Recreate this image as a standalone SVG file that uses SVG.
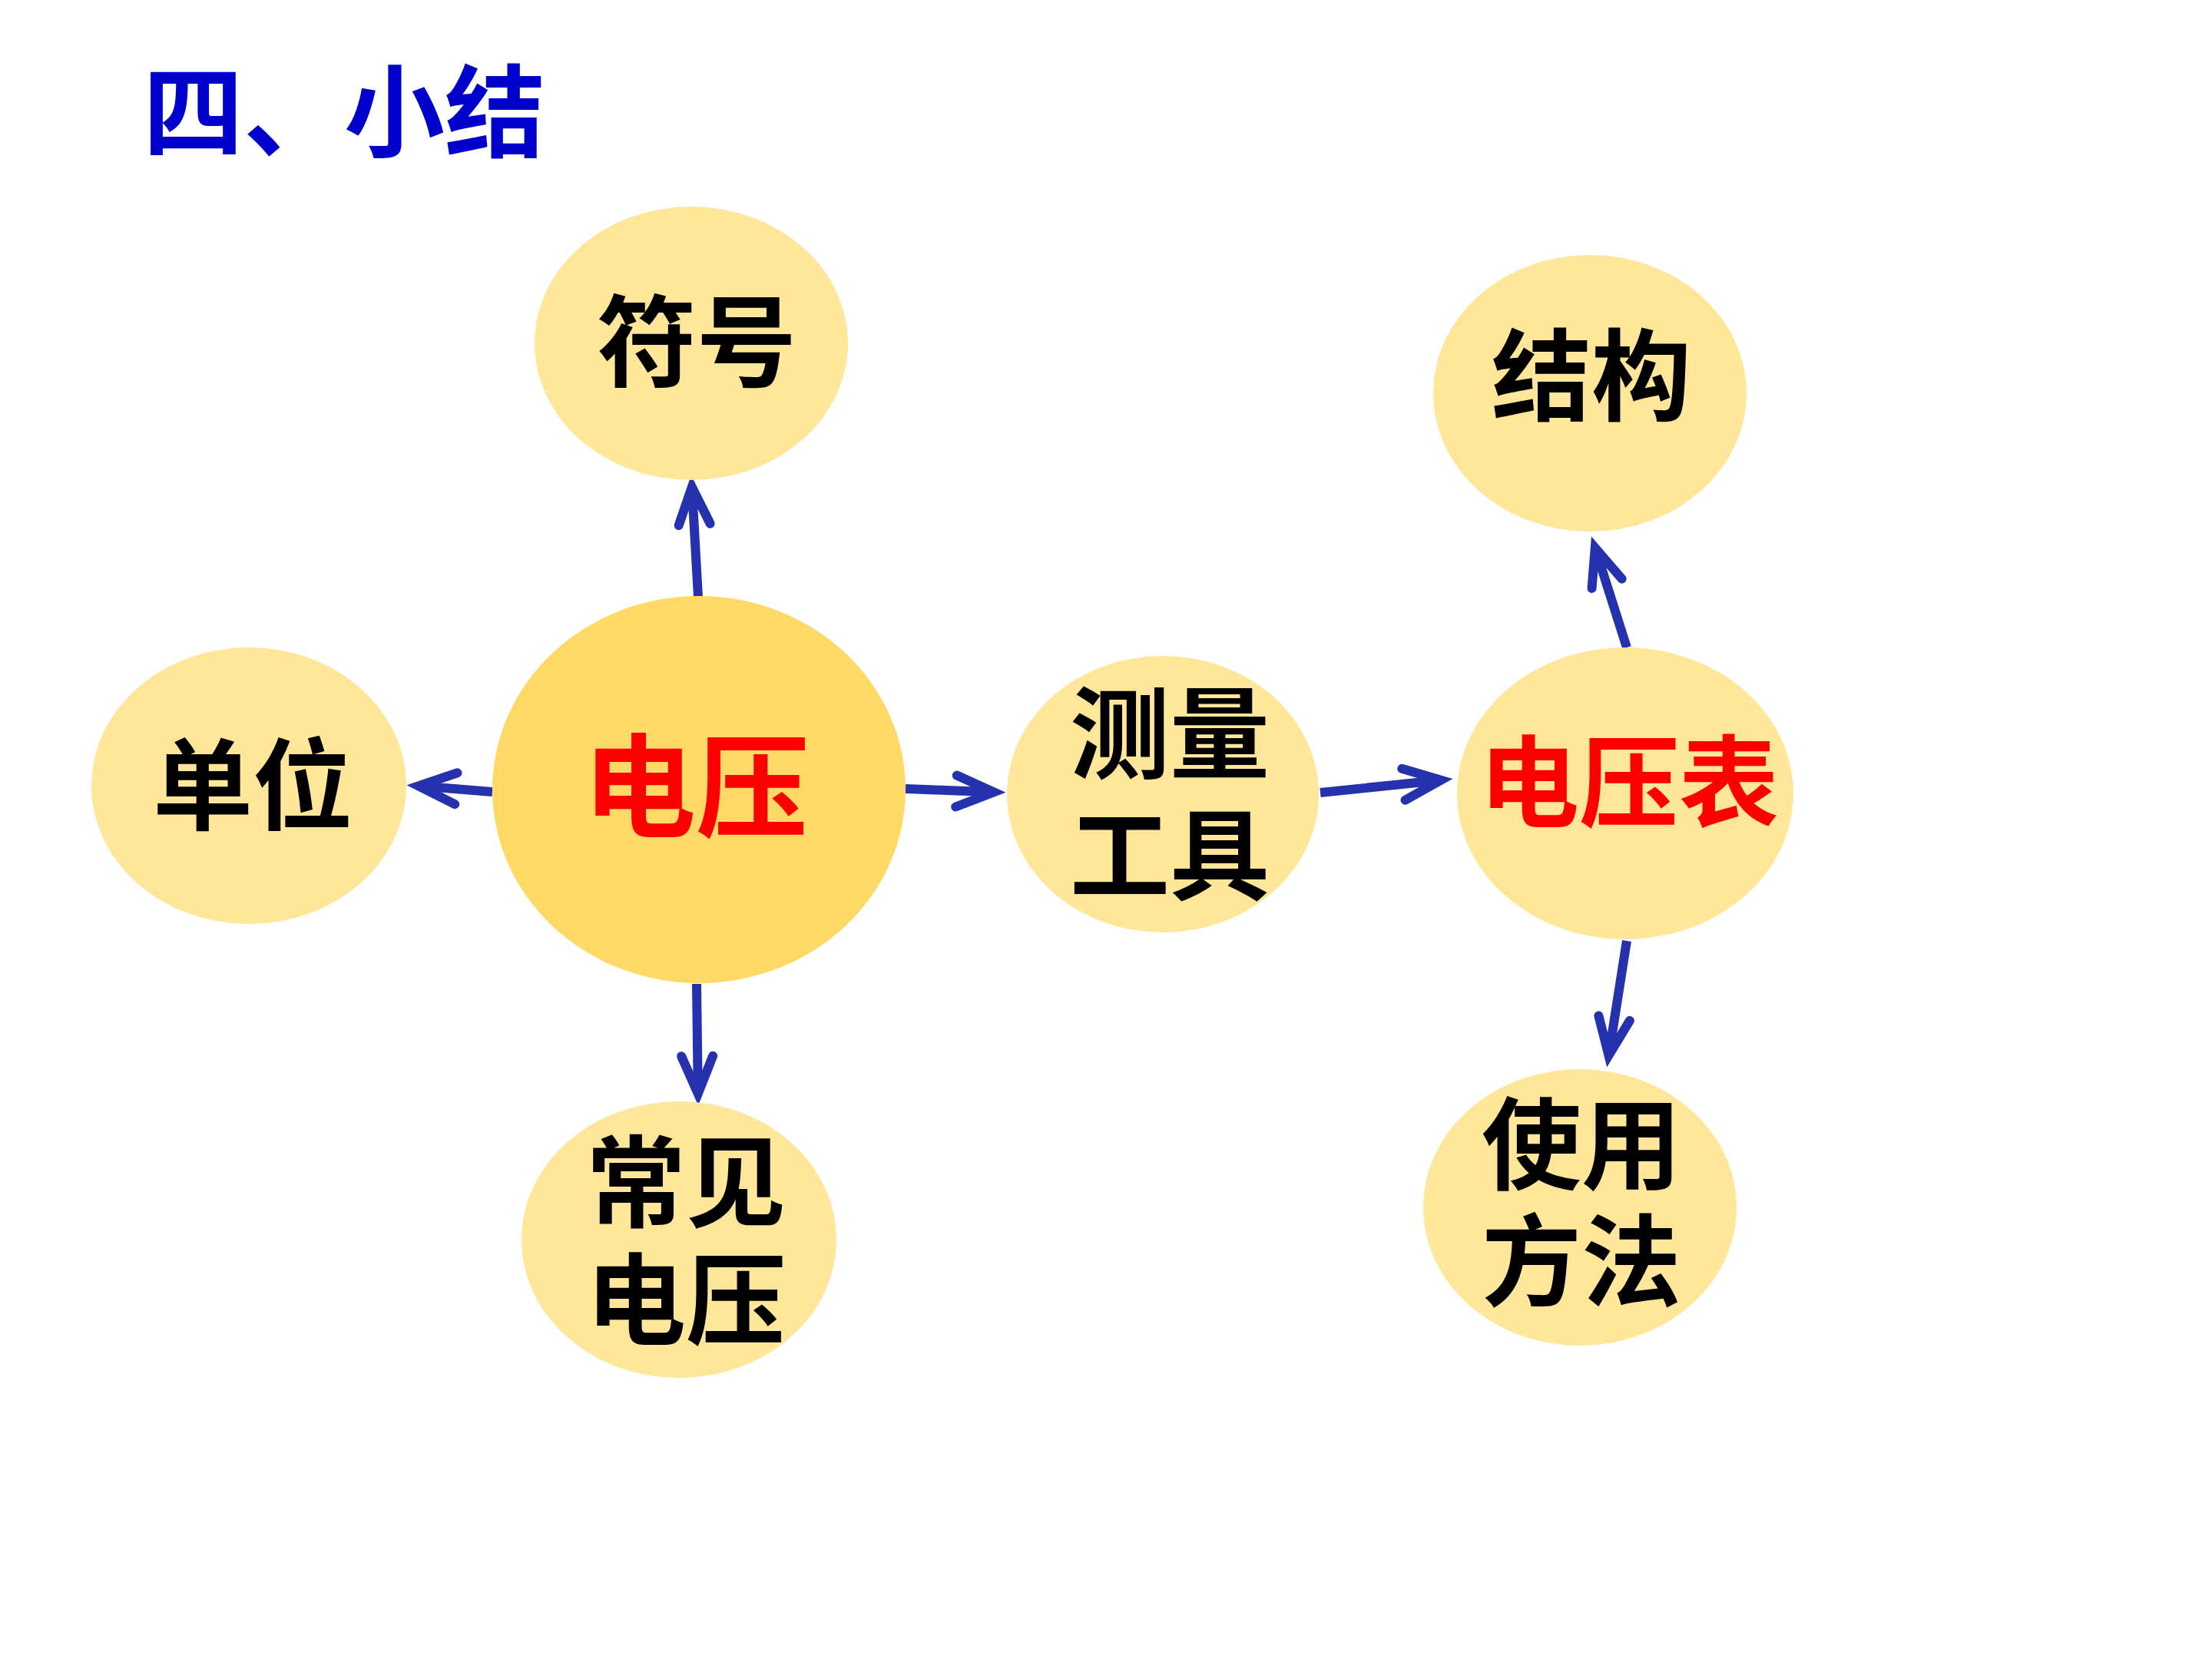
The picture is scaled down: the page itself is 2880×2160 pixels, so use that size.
<svg xmlns="http://www.w3.org/2000/svg" width="2880" height="2160" viewBox="0 0 2880 2160">
<style>
.n{fill:#FFE699}
.c{fill:#FFD966}
.t{font-family:"Noto Sans CJK SC","Noto Sans CJK JP",sans-serif;font-weight:700;font-size:130px;text-anchor:middle;fill:#000}
.r{fill:#FF0000}
.a{stroke:#2632AD;stroke-width:12;fill:none;marker-end:url(#ah)}
</style>
<defs>
<marker id="ah" markerUnits="userSpaceOnUse" orient="auto" markerWidth="120" markerHeight="120" refX="0" refY="0" viewBox="-70 -60 120 120" overflow="visible">
<path d="M-49,-20 L0,0 L-49,21" fill="none" stroke="#2632AD" stroke-width="12" stroke-linecap="round" stroke-linejoin="miter"/>
</marker>
</defs>
<rect width="2880" height="2160" fill="#fff"/>
<g id="title">
<text x="186" y="194" style="font-family:'Noto Sans CJK SC',sans-serif;font-weight:700;font-size:131px;fill:#0000CC">四、小结</text>
</g>
<g id="connectors">
<line class="a" x1="909" y1="777" x2="900.9" y2="634"/>
<line class="a" x1="641" y1="1031" x2="545" y2="1023.3"/>
<line class="a" x1="907" y1="1281" x2="908.8" y2="1424"/>
<line class="a" x1="1179" y1="1027" x2="1294" y2="1031.4"/>
<line class="a" x1="1719" y1="1032" x2="1876.1" y2="1015.7"/>
<line class="a" x1="2118" y1="843" x2="2076.8" y2="713.3"/>
<line class="a" x1="2118" y1="1225" x2="2094.5" y2="1374.2"/>
</g>
<g id="fuhao"><ellipse class="n" cx="900" cy="447" rx="204" ry="178"/><text class="t" x="907" y="493">符号</text></g>
<g id="jiegou"><ellipse class="n" cx="2070" cy="512" rx="204" ry="180"/><text class="t" x="2072" y="537">结构</text></g>
<g id="danwei"><ellipse class="n" cx="324" cy="1023" rx="205" ry="180"/><text class="t" x="329" y="1070">单位</text></g>
<g id="dianya"><ellipse class="c" cx="910" cy="1028" rx="269" ry="252"/><text class="t r" x="906" y="1078" style="font-size:147px">电压</text></g>
<g id="celiang"><ellipse class="n" cx="1514" cy="1034" rx="203" ry="180"/><text class="t" x="1523" y="1003">测量</text><text class="t" x="1523" y="1161">工具</text></g>
<g id="dianyabiao"><ellipse class="n" cx="2116" cy="1033" rx="219" ry="190"/><text class="t r" x="2121" y="1066">电压表</text></g>
<g id="changjian"><ellipse class="n" cx="884" cy="1614" rx="205" ry="180"/><text class="t" x="893" y="1587">常见</text><text class="t" x="893" y="1740">电压</text></g>
<g id="shiyong"><ellipse class="n" cx="2057" cy="1572" rx="204" ry="180"/><text class="t" x="2059" y="1538">使用</text><text class="t" x="2059" y="1690">方法</text></g>
</svg>
